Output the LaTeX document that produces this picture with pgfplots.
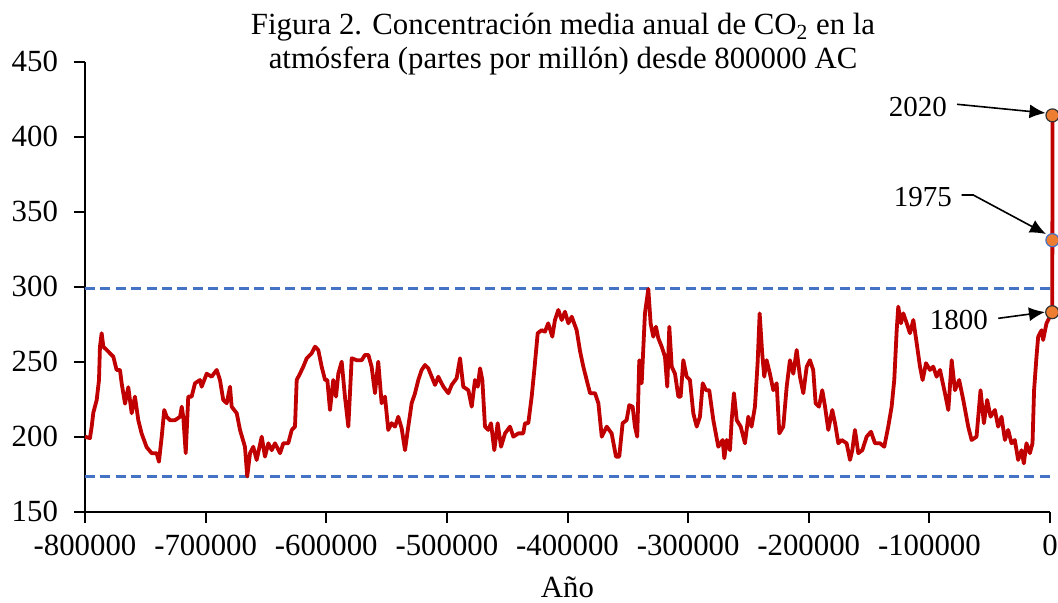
\documentclass[border=0pt]{standalone}
\usepackage{fontspec}
\setmainfont{Liberation Serif}
\usepackage{pgfplots}
\pgfplotsset{compat=1.18}
\usetikzlibrary{arrows.meta}
\definecolor{redline}{HTML}{C00000}
\definecolor{blueline}{HTML}{4472C4}
\definecolor{orangem}{HTML}{ED7D31}
\begin{document}
\begin{tikzpicture}
\begin{axis}[
  scale only axis, width=482.5pt, height=225pt,
  xmin=-800000, xmax=0, ymin=150, ymax=450,
  clip=false,
  scaled x ticks=false, scaled y ticks=false,
  axis x line*=bottom, axis y line*=left,
  axis line style={black, line width=1pt, -},
  tick style={black, line width=1pt},
  tick align=outside, major tick length=5.5pt,
  xtick={-800000,-700000,-600000,-500000,-400000,-300000,-200000,-100000,0},
  xticklabels={-800000,-700000,-600000,-500000,-400000,-300000,-200000,-100000,0},
  ytick={150,200,250,300,350,400,450},
  yticklabels={150,200,250,300,350,400,450},
  ticklabel style={font=\fontsize{15.4}{17}\selectfont},
  xticklabel style={anchor=base, yshift=-16.5pt},
  yticklabel style={anchor=east, xshift=-4.5pt},
  minor tick num=0,
]
\addplot[blueline, line width=1.5pt, dash pattern=on 5pt off 2.7pt] coordinates {(-800000,298.5) (0,298.5)};
\addplot[blueline, line width=1.5pt, dash pattern=on 5pt off 2.7pt] coordinates {(-800000,173.5) (0,173.5)};
\addplot[redline, line width=1.9pt, line join=round] coordinates {
(-800000,200) (-795900,199) (-794450,206.7) (-793100,216) (-790300,224.5) (-788400,237.8) (-787600,260) (-786200,269) (-784800,260) (-782000,257.8) (-779300,255.6) (-776500,253.3) (-773800,244.5) (-771000,244.5) (-769600,235.6) (-766800,222) (-764100,233) (-761300,215.6) (-758600,226.7) (-755800,211) (-753000,202) (-748900,193) (-744700,189) (-740600,189) (-738700,183.3) (-736400,200) (-734300,217.8) (-732300,213.3) (-729500,211) (-725400,211) (-721200,213.3) (-719800,220) (-718500,213) (-716500,189) (-714400,226.7) (-711600,226.7) (-708800,235.6) (-704700,237.8) (-703300,233.3) (-699100,242) (-695000,240) (-690800,244.5) (-688100,237.8) (-685400,224.5) (-682500,222.3) (-679800,233.3) (-678400,220) (-674200,215.6) (-671500,204.5) (-667400,193.3) (-665500,173.5)
(-663200,189) (-660500,193.3) (-657700,184.5) (-653500,200) (-650800,186.7) (-648000,195.6) (-645200,191) (-642500,195.6) (-638300,189) (-635600,195.6) (-631500,195.6) (-628600,204.5) (-625900,206.7) (-624500,237.8) (-621800,242) (-619000,246.7) (-616200,252.3) (-612100,255.6) (-609300,260) (-606600,257.8) (-603800,246.7) (-601000,237.8) (-599100,237.8) (-596900,217.8) (-594200,237.8) (-591900,226.7) (-590000,242) (-587200,250) (-584500,226.7) (-581700,206.7) (-578900,252.3) (-574800,251) (-570600,251) (-567900,254.5) (-565100,254.5) (-562400,246.7) (-559600,229) (-556900,250) (-554100,222.3) (-551300,226.7) (-548600,204.5) (-545800,209) (-543000,206.7) (-540300,213.3) (-537500,205.6) (-534700,191) (-532000,206.7) (-529200,222.3) (-526400,229)
(-523700,237.8) (-520900,244.5) (-518100,247.8) (-515400,245.6) (-512600,240) (-509800,234.5) (-507100,240) (-502900,233.3) (-498800,229) (-496000,234.5) (-491900,239) (-489100,252.3) (-486400,233.3) (-482200,231) (-479400,220) (-476700,237.8) (-474400,233.3) (-472500,245.6) (-470600,237.8) (-468400,206.7) (-465700,204.5) (-463400,209) (-460700,191) (-457900,209) (-455100,193.3) (-451800,202.2) (-447700,206.7) (-444900,200) (-440800,202.2) (-436700,202.2) (-435200,209) (-432500,209) (-429700,226.7) (-427500,244.5) (-424700,269) (-421400,271) (-418700,270) (-416000,275.6) (-412600,266.7) (-410400,277.8) (-407600,284.5) (-404800,277.8) (-402100,283.3) (-399300,275.6) (-396500,280) (-392400,271) (-389600,257)
(-386900,246.7) (-384100,237.8) (-381300,229) (-377200,229) (-374400,222.3) (-371600,200) (-367500,206.7) (-363400,202.2) (-359800,186.7) (-357100,186.7) (-354300,209) (-351000,211) (-348800,221) (-346000,220) (-344100,206.7) (-342200,200) (-340500,251) (-338500,235.6) (-335800,282.2) (-333000,298.5) (-331100,275.6) (-328900,266.7) (-326700,273.3) (-324700,265.6) (-321900,260) (-319200,253.3) (-317300,233.3) (-315600,273.3) (-313600,246.7) (-310900,242) (-308100,226.7) (-306200,226.7) (-304000,251) (-301200,240) (-298500,237.8) (-295700,215.6) (-292900,206.7) (-290200,213.3) (-287900,235.6) (-285200,231) (-282500,231) (-279100,211) (-275000,193.3) (-271400,197.8) (-270000,185.6) (-268000,197.8) (-265300,191) (-263900,211) (-262000,229) (-259700,211) (-256400,206.7) (-252900,195.6)
(-250100,213.3) (-247400,206.7) (-244600,220) (-242400,249) (-240700,282.2) (-238600,255.6) (-236900,240) (-234900,251) (-232200,242) (-229400,231) (-226600,235.6) (-224400,202.2) (-221100,206.7) (-218300,233.3) (-215600,251) (-212800,242) (-210000,257.8) (-207300,240) (-204500,229) (-201700,246.7) (-199000,251) (-196300,244.5) (-194300,222.3) (-191500,220) (-188800,231) (-186500,220) (-183800,204.5) (-180500,217.8) (-178200,209) (-175500,195.6) (-172700,197.8) (-168600,195.6) (-165800,184.5) (-163900,191) (-161700,204.5) (-158900,189) (-155600,191) (-152000,200) (-148400,203.3) (-145100,195.6) (-140900,195.6) (-137400,193.3) (-134100,206.7) (-131300,220) (-129100,237.8) (-127100,271) (-125800,286.7) (-123600,275.6) (-121600,282.2) (-118800,275.6) (-116100,269)
(-113300,277.8) (-110500,262.2) (-107800,246.7) (-105600,237.8) (-102800,249) (-99500,244.5) (-96800,246.7) (-94000,240) (-91200,244.5) (-87100,229) (-84300,217.8) (-81500,251) (-78800,231) (-75300,237.8) (-71900,224.5) (-67800,206.7) (-65000,197.8) (-60900,200) (-57600,231) (-54800,209) (-52100,224.5) (-49300,213.3) (-45700,217.8) (-43000,206.7) (-40200,213.3) (-37400,197.8) (-34700,204.5) (-31900,195.6) (-29200,197.8) (-26400,184.5) (-23600,191) (-21700,182.2) (-19500,195.6) (-16700,189) (-14500,195.6) (-13200,231) (-11200,253.3) (-9800,266.7) (-7000,271) (-5700,264.5) (-2900,275.6) (-200,280)
(1800,283) (1975,331) (2020,414.2)
};
\addplot[only marks, mark=*, mark size=3.25pt, mark options={fill=orangem, draw=black!80, line width=0.6pt}] coordinates {(1800,283) (2020,414.2)};
\addplot[only marks, mark=*, mark size=3.25pt, mark options={fill=orangem, draw=blueline, line width=0.6pt}] coordinates {(1975,331)};
% annotations
\node[font=\fontsize{14.5}{16}\selectfont] at (axis cs:-109450,419.8) {2020};
\draw[black, line width=0.8pt, -{Latex[length=8pt,width=7pt]}] (axis cs:-77100,421.6) -- (axis cs:-3700,415.8);
\node[font=\fontsize{14.5}{16}\selectfont] at (axis cs:-105300,360) {1975};
\draw[black, line width=0.8pt, -{Latex[length=8pt,width=7pt]}] (axis cs:-73200,361.1) -- (axis cs:-63600,361.1) -- (axis cs:-3300,335.1);
\node[font=\fontsize{14.5}{16}\selectfont] at (axis cs:-75500,277.8) {1800};
\draw[black, line width=0.8pt, -{Latex[length=8pt,width=7pt]}] (axis cs:-42900,278.9) -- (axis cs:-4200,283.1);
% title
\node[anchor=base, font=\fontsize{15.4}{17}\selectfont] at ([yshift=13.35pt]axis cs:-403700,450) {Figura 2. Concentración media anual de CO\textsubscript{2} en la};
\node[anchor=base, font=\fontsize{15.4}{17}\selectfont] at ([yshift=-3.2pt]axis cs:-403700,450) {atmósfera (partes por millón) desde 800000 AC};
% xlabel
\node[anchor=base, inner sep=0pt, font=\fontsize{15.4}{17}\selectfont] at ([yshift=-42.8pt]axis cs:-400000,150) {Año};
\coordinate (BL) at (rel axis cs:0,0);
\coordinate (TR) at (rel axis cs:1,1);
\end{axis}
\pgfresetboundingbox
\path[use as bounding box] ([xshift=-42.5pt,yshift=-45.65pt]BL) rectangle ([xshift=4pt,yshift=30.85pt]TR);
\end{tikzpicture}
\end{document}
